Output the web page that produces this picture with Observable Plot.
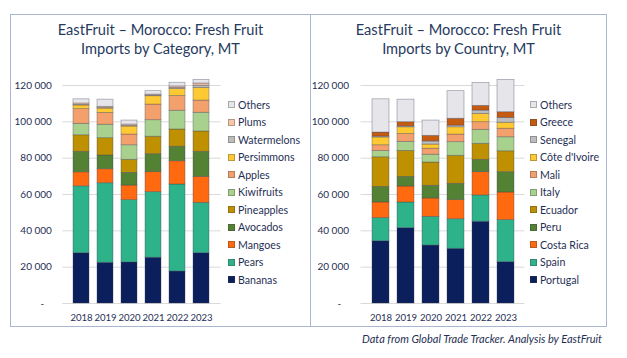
<!DOCTYPE html>
<html><head><meta charset="utf-8">
<script src="https://cdn.jsdelivr.net/npm/d3@7"></script>
<script src="https://cdn.jsdelivr.net/npm/@observablehq/plot@0.6"></script>
<style>
body{margin:0;background:#fff;font-family:Lato,"Open Sans",sans-serif;}
#wrap{position:relative;width:627px;height:358px;overflow:hidden;background:#fff;}
.panel{position:absolute;top:14px;height:313px;border:1px solid #A9B6D0;box-sizing:border-box;}
.title{position:absolute;top:20px;text-align:center;color:#263A5E;font-size:14.6px;line-height:19px;}
.chart{position:absolute;top:70px;}
.legend{position:absolute;top:96px;font-size:10.6px;color:#1F2F55;}
.legend .row{height:17.5px;display:flex;align-items:center;white-space:nowrap;}
.legend .sw{width:5px;height:5px;border:1px solid rgba(60,60,60,.35);margin-right:3px;flex:none;}
.caption{position:absolute;right:25px;top:332px;font-style:italic;font-size:11px;color:#1F2F55;white-space:nowrap;}
</style>
</head><body>
<div id="wrap">
  <div class="panel" style="left:10px;width:301px;"></div>
  <div class="panel" style="left:310px;width:297px;"></div>
  <div class="title" style="left:10px;width:301px;">EastFruit – Morocco: Fresh Fruit<br>Imports by Category, MT</div>
  <div class="title" style="left:310px;width:297px;">EastFruit – Morocco: Fresh Fruit<br>Imports by Country, MT</div>
  <div class="chart" id="c1" style="left:0px;"></div>
  <div class="chart" id="c2" style="left:300px;"></div>
  <div class="legend" id="l1" style="left:228px;"></div>
  <div class="legend" id="l2" style="left:530px;"></div>
  <div class="caption">Data from Global Trade Tracker. Analysis by EastFruit</div>
</div>
<script>
const years = ["2018","2019","2020","2021","2022","2023"];
const yTicks = [0, 20000, 40000, 60000, 80000, 100000, 120000];

// Left chart: by category (stack order bottom -> top)
const fruitCats = ["Bananas","Pears","Mangoes","Avocados","Pineapples","Kiwifruits","Apples","Persimmons","Watermelons","Plums","Others"];
const fruitColors = ["#0B1F5C","#2EB28A","#FF6A10","#548235","#BF9000","#A9D18E","#F4A06C","#FFC933","#BDBDBD","#F8C7A8","#E6E6EA"];
const bananas     = [27700, 22400, 22600, 25200, 17600, 27700];
const pears       = [36800, 43800, 34300, 36100, 47900, 27700];
const mangoes     = [ 7700,  7700,  8000, 11000, 12800, 14300];
const avocados    = [11300,  7600,  7000,  9900,  8000, 13800];
const pineapples  = [ 9100,  9500,  7200,  9600,  9500, 11200];
const kiwifruits  = [ 6300,  7400,  8000,  9100, 10300, 10300];
const apples      = [ 8100,  6500,  5900,  8600,  8100,  6700];
const persimmons  = [ 2000,  2400,  4400,  4600,  3900,  7000];
const watermelons = [  300,   300,   300,   300,   600,  1200];
const plums       = [  800,   700,   800,   600,   800,  1200];
const fruitOthers = [ 2300,  3900,  2200,  1900,  2000,  2000];

// Right chart: by country (stack order bottom -> top)
const countryCats = ["Portugal","Spain","Costa Rica","Peru","Ecuador","Italy","Mali","Côte d'Ivoire","Senegal","Greece","Others"];
const countryColors = ["#0B1F5C","#2EB28A","#FF6A10","#548235","#BF9000","#A9D18E","#F4A06C","#FFC933","#BDBDBD","#C55A11","#E6E6EA"];
const portugal   = [34300, 41500, 31900, 30100, 45000, 22800];
const spain      = [12700, 14100, 15800, 16300, 14500, 23100];
const costaRica  = [ 8600,  8800, 10100, 10500, 12800, 15200];
const peru       = [ 8600,  5300,  7000,  9000,  6800, 11200];
const ecuador    = [16300, 14300, 12800, 15400,  8800, 11500];
const italy      = [ 3400,  5000,  4300,  7500,  7700,  7700];
const mali       = [ 3200,  4300,  3300,  4200,  4200,  4700];
const coteIvoire = [ 4300,  3700,  2300,  4000,  4600,  3300];
const senegal    = [  500,   500,  1700,   900,  1800,  2700];
const greece     = [ 2200,  2300,  3100,  3800,  2600,  3100];
const countryOthers = [18300, 12400,  8400, 15200, 12600, 17800];

const fruitSeries = [bananas,pears,mangoes,avocados,pineapples,kiwifruits,apples,persimmons,watermelons,plums,fruitOthers];
const countrySeries = [portugal,spain,costaRica,peru,ecuador,italy,mali,coteIvoire,senegal,greece,countryOthers];

function tidy(cats, series){
  const out = [];
  cats.forEach((c,i)=> years.forEach((y,j)=> out.push({year:y, cat:c, value:series[i][j]})));
  return out;
}
const fmt = d => d === 0 ? "-\u00a0\u00a0\u00a0" : String(d).replace(/\B(?=(\d{3})+(?!\d))/g, " ");
const ink = "#1F2F55";

function chart(cats, colors, series, mLeft, mRight, pad){
  return Plot.plot({
    width: 230, height: 260,
    marginLeft: mLeft, marginRight: mRight, marginTop: 15, marginBottom: 27,
    x: {domain: years, padding: 0.33, label: null},
    y: {domain: [0, 120000], label: null},
    color: {domain: cats, range: colors},
    style: {fontFamily: "Lato, sans-serif", fontSize: "10px", color: ink, background: "transparent", overflow: "visible"},
    marks: [
      Plot.gridY(yTicks, {stroke: "#DADADA", strokeOpacity: 1}),
      Plot.barY(tidy(cats, series), {x: "year", y: "value", fill: "cat", order: cats,
        stroke: "#3A3F55", strokeOpacity: 0.45, strokeWidth: 0.75}),
      Plot.axisY(yTicks, {tickSize: 0, tickPadding: pad, tickFormat: fmt, label: null}),
      Plot.axisX({tickSize: 0, tickPadding: 11, label: null, fontSize: 9.6})
    ]
  });
}

document.getElementById("c1").append(chart(fruitCats, fruitColors, fruitSeries, 62.4, 9.4, 11));
document.getElementById("c2").append(chart(countryCats, countryColors, countrySeries, 60.5, 5.6, 12));

function legend(el, cats, colors){
  for (let i = cats.length - 1; i >= 0; i--) {
    const row = document.createElement("div"); row.className = "row";
    const sw = document.createElement("span"); sw.className = "sw"; sw.style.background = colors[i];
    const t = document.createElement("span"); t.textContent = cats[i];
    row.append(sw, t); el.append(row);
  }
}
legend(document.getElementById("l1"), fruitCats, fruitColors);
legend(document.getElementById("l2"), countryCats, countryColors);
</script>
</body></html>
